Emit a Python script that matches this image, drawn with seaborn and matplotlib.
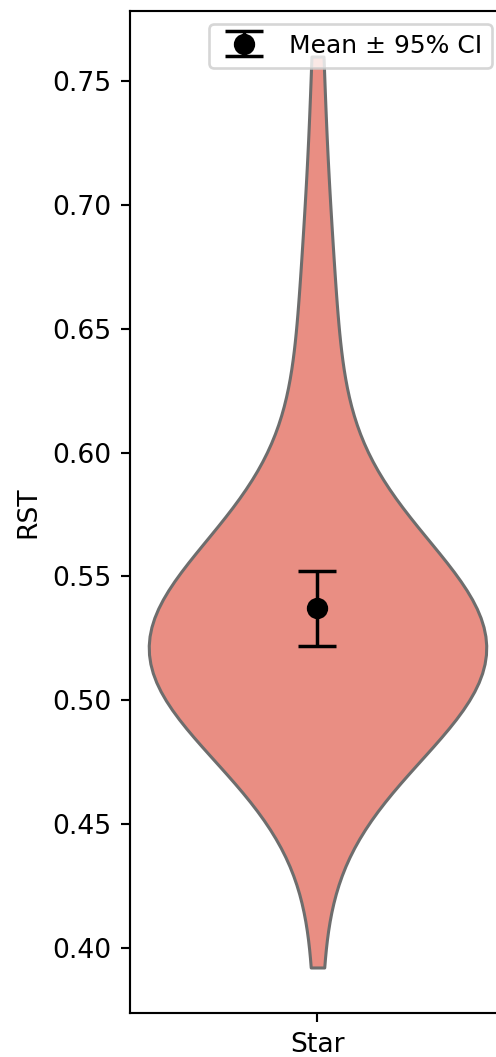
import numpy as np
import pandas as pd
import matplotlib
matplotlib.use("Agg")
import matplotlib.pyplot as plt
import seaborn as sns

# RST scores for the "Star" group
group_names = ["Star"]
rst_star = [
    0.392,
    0.472, 0.476, 0.479, 0.484, 0.488, 0.491, 0.494, 0.497, 0.499, 0.503,
    0.504, 0.505, 0.506, 0.507, 0.509, 0.510, 0.511, 0.512, 0.513, 0.514,
    0.515, 0.516, 0.517, 0.518, 0.519, 0.520, 0.521,
    0.522, 0.523, 0.525, 0.527, 0.529, 0.530, 0.531,
    0.532, 0.533, 0.535, 0.536, 0.537, 0.539, 0.541, 0.542, 0.544, 0.546,
    0.549, 0.551, 0.554, 0.557, 0.565,
    0.577, 0.592, 0.610, 0.624, 0.640, 0.658, 0.680, 0.706, 0.760,
]
y_label = "RST"
legend_text = "Mean \u00b1 95% CI"

df = pd.DataFrame({"group": group_names[0], "RST": rst_star})

dpi = 192
fig = plt.figure(figsize=(496 / dpi, 1057 / dpi), dpi=dpi)
ax = fig.add_axes([0.2621, 0.0416, 0.756, 0.948])

sns.violinplot(
    data=df, x="group", y="RST", ax=ax,
    color="salmon", cut=0, inner=None, width=0.9, linewidth=1.15,
    bw_adjust=1.5,
)

# mean with normal-approximation 95% confidence interval
vals = np.asarray(rst_star)
mean = vals.mean()
half = 1.96 * vals.std(ddof=1) / np.sqrt(len(vals))
ax.errorbar(
    [0], [mean], yerr=[[half], [half]], fmt="o", color="black",
    markersize=7, elinewidth=1.3, capsize=7, capthick=1.3, zorder=5,
    label=legend_text,
)

ax.set_xlim(-0.5, 0.5)
ax.set_xlabel("")
ax.set_ylabel(y_label)
ax.legend(loc="upper right", fontsize=9.4)

fig.savefig("out.png", dpi=dpi)
